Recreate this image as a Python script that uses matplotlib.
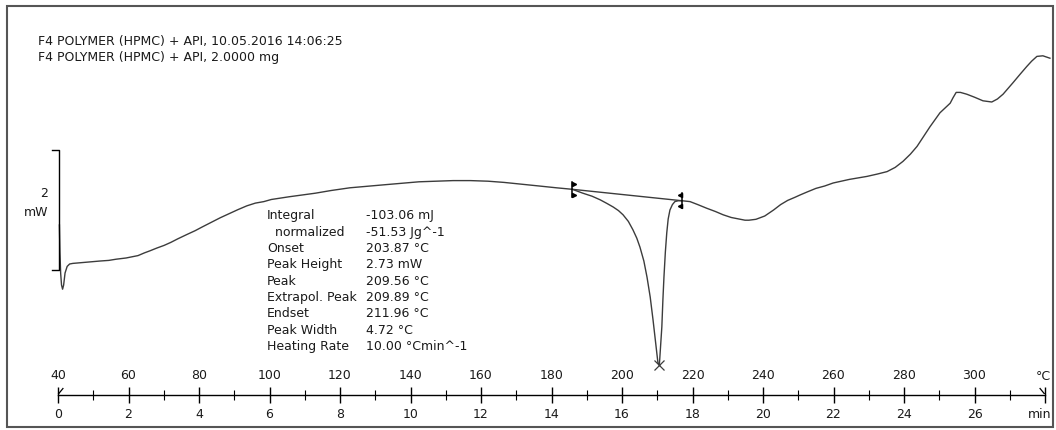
import numpy as np
import matplotlib.pyplot as plt
from matplotlib.patches import Rectangle

# === 1. DSC curve (temperature in °C, heat flow in mW, arbitrary offset) ===
temp = [40.40, 40.55, 40.75, 41.00, 41.30, 41.60, 42.00, 42.60, 43.30, 44.20,
        47.0, 49.6, 52.0, 54.4, 56.5, 59.3, 61.0, 62.7, 64.5, 66.1, 68.0, 70.1,
        72.0, 74.0, 76.5, 78.9, 81.0, 83.7, 86.0, 88.6, 91.0, 93.6, 96.0, 98.4,
        100.5, 103.3, 105.5, 108.0, 110.0, 113.0, 117.5, 122.8, 127.5, 132.5,
        137.5, 142.4, 147.0, 152.1, 157.0, 162.0, 166.5, 171.6, 176.5, 181.4,
        185.9, 188.9, 191.5, 193.8, 195.7, 197.5, 199.0, 200.3, 201.8, 203.1,
        204.2, 205.1, 206.2, 207.1, 208.0, 208.8, 209.6, 210.2, 210.6,
        210.9, 211.3, 211.6, 211.9, 212.3, 212.7, 213.1, 213.6, 214.3, 215.0,
        216.0, 216.9, 219.3, 221.5, 224.0, 226.5, 228.7, 231.0, 233.5, 234.9,
        236.0, 238.0, 240.5, 243.0, 245.0, 247.0, 249.0, 250.5, 252.5, 255.0,
        257.5, 259.9, 264.5, 269.5, 272.5, 275.2, 277.5, 279.7, 281.8, 283.7,
        285.5, 287.4, 290.2, 293.1, 293.9, 294.8, 296.0, 297.8, 300.0, 302.4,
        304.9, 306.5, 308.1, 310.9, 312.9, 314.8, 316.2, 317.7, 319.4, 321.4]
heat_flow = [0.75, 0.30, -0.05, -0.25, -0.32, -0.25, -0.05, 0.06, 0.10, 0.11,
             0.125, 0.14, 0.15, 0.16, 0.18, 0.20, 0.22, 0.24, 0.285, 0.32, 0.365, 0.41,
             0.46, 0.52, 0.59, 0.655, 0.72, 0.80, 0.87, 0.94, 1.005, 1.07, 1.115, 1.14,
             1.175, 1.20, 1.22, 1.24, 1.255, 1.28, 1.325, 1.37, 1.395, 1.42,
             1.445, 1.47, 1.48, 1.49, 1.49, 1.48, 1.46, 1.43, 1.40, 1.37,
             1.345, 1.28, 1.23, 1.17, 1.11, 1.05, 0.99, 0.92, 0.81, 0.67,
             0.53, 0.38, 0.15, -0.12, -0.45, -0.83, -1.25, -1.55, -1.58,
             -1.30, -0.95, -0.50, -0.12, 0.30, 0.62, 0.85, 1.00, 1.09, 1.14,
             1.155, 1.155, 1.14, 1.09, 1.03, 0.975, 0.92, 0.875, 0.845, 0.83,
             0.83, 0.845, 0.90, 1.00, 1.09, 1.16, 1.21, 1.25, 1.30, 1.36,
             1.40, 1.45, 1.51, 1.56, 1.60, 1.64, 1.71, 1.81, 1.93, 2.06,
             2.22, 2.39, 2.62, 2.78, 2.87, 2.96, 2.96, 2.93, 2.88, 2.82,
             2.80, 2.85, 2.93, 3.12, 3.26, 3.39, 3.48, 3.56, 3.57, 3.53]

# integration limits and peak
limit_temp = [185.9, 216.9]
limit_hf = [1.345, 1.155]
peak_temp = 210.6
peak_hf = -1.58

header = ["F4 POLYMER (HPMC) + API, 10.05.2016 14:06:25",
          "F4 POLYMER (HPMC) + API, 2.0000 mg"]
result_names = ["Integral", "  normalized", "Onset", "Peak Height", "Peak",
                "Extrapol. Peak", "Endset", "Peak Width", "Heating Rate"]
result_values = ["-103.06 mJ", "-51.53 Jg^-1", "203.87 °C", "2.73 mW", "209.56 °C",
                 "209.89 °C", "211.96 °C", "4.72 °C", "10.00 °Cmin^-1"]

temp_ticks = list(range(40, 321, 20))
temp_labels = [str(t) for t in temp_ticks[:-1]] + [""]
time_ticks = list(range(0, 29, 2))
time_labels = [str(t) for t in time_ticks[:-1]] + [""]

# === 2. Figure / scales ===
W, H = 1056, 430
fig = plt.figure(figsize=(W / 100, H / 100), dpi=100)
plt.rcParams['font.family'] = ['DejaVu Sans']
FS = 9
ink = '#1a1a1a'

px_per_20 = 70.5
x_lo = 40 - 58 / px_per_20 * 20
x_hi = 40 + (W - 58) / px_per_20 * 20
y_lo, y_hi = (270 - H) / 60, 270 / 60

ax = fig.add_axes([0, 0, 1, 1])
ax.set_xlim(x_lo, x_hi)
ax.set_ylim(y_lo, y_hi)
ax.axis('off')

ax.plot(temp, heat_flow, color='#3c3c3c', lw=1.0)
ax.plot(limit_temp, limit_hf, color='#3c3c3c', lw=1.0)
ax.plot(peak_temp, peak_hf, marker='x', ms=7, mew=0.9, color='#3c3c3c')

# limit flags
for t, h, m, d in [(limit_temp[0], limit_hf[0], '>', 0.4), (limit_temp[1], limit_hf[1], '<', -0.4)]:
    ax.plot([t, t], [h - 0.125, h + 0.125], color='black', lw=1.1)
    ax.plot([t + d, t + d], [h + 0.09, h - 0.09], ls='none', marker=m, ms=3, color='black')

# 2 mW scale bar
ax.plot([38.4, 40.4, 40.4, 38.4], [2, 2, 0, 0], color='black', lw=1.0)
fig.text(48 / W, 1 - 193 / H, "2", ha='right', va='center', fontsize=FS, color=ink)
fig.text(48 / W, 1 - 212 / H, "mW", ha='right', va='center', fontsize=FS, color=ink)

# header and result table
for i, line in enumerate(header):
    fig.text(38 / W, 1 - (42 + 15.5 * i) / H, line, ha='left', va='center', fontsize=FS, color=ink)
for i, (n, v) in enumerate(zip(result_names, result_values)):
    y = 1 - (215.7 + 16.33 * i) / H
    fig.text(267 / W, y, n, ha='left', va='center', fontsize=FS, color=ink)
    fig.text(366 / W, y, v, ha='left', va='center', fontsize=FS, color=ink)

# === 3. Temperature / time ruler ===
ax_r = fig.add_axes([0, (H - 394.5) / H, 1, 1e-4])
ax_r.patch.set_alpha(0)
ax_r.set_xlim(x_lo, x_hi)
for s in ['top', 'left', 'right']:
    ax_r.spines[s].set_visible(False)
ax_r.spines['bottom'].set_bounds(40, 320)
ax_r.spines['bottom'].set_linewidth(1.0)
ax_r.set_yticks([])
ax_r.set_xticks(temp_ticks)
ax_r.set_xticklabels(temp_labels)
ax_r.set_xticks(list(range(50, 311, 20)), minor=True)
ax_r.tick_params(which='major', direction='inout', length=12, width=1.0, top=False, bottom=True,
                 labeltop=True, labelbottom=False, pad=3, labelsize=FS, labelcolor=ink)
ax_r.tick_params(which='minor', direction='inout', length=7, width=0.8, top=False)

sec = ax_r.secondary_xaxis('bottom', functions=(lambda t: (t - 40) / 10, lambda m: 40 + 10 * m))
sec.set_xticks(time_ticks)
sec.set_xticklabels(time_labels)
sec.tick_params(length=0, pad=9.8, labelsize=FS, labelcolor=ink)
sec.spines['bottom'].set_visible(False)

# unit labels at the end of the ruler
fig.text(1051 / W, 1 - 376 / H, "°C", ha='right', va='center', fontsize=FS, color=ink)
fig.text(1051 / W, 1 - 414 / H, "min", ha='right', va='center', fontsize=FS, color=ink)

# slashes at the ends of the ruler
axis_hf = (270 - 394.5) / 60
ax.plot([40, 41.4], [axis_hf, axis_hf + 0.1], color='black', lw=0.9)
ax.plot([318.6, 320], [axis_hf + 0.1, axis_hf], color='black', lw=0.9)

# frame
fig.add_artist(Rectangle((7 / W, 3 / H), 1046 / W, 421 / H, transform=fig.transFigure,
                         fill=False, edgecolor='#555555', lw=1.5))

fig.savefig("out.png", dpi=100)
